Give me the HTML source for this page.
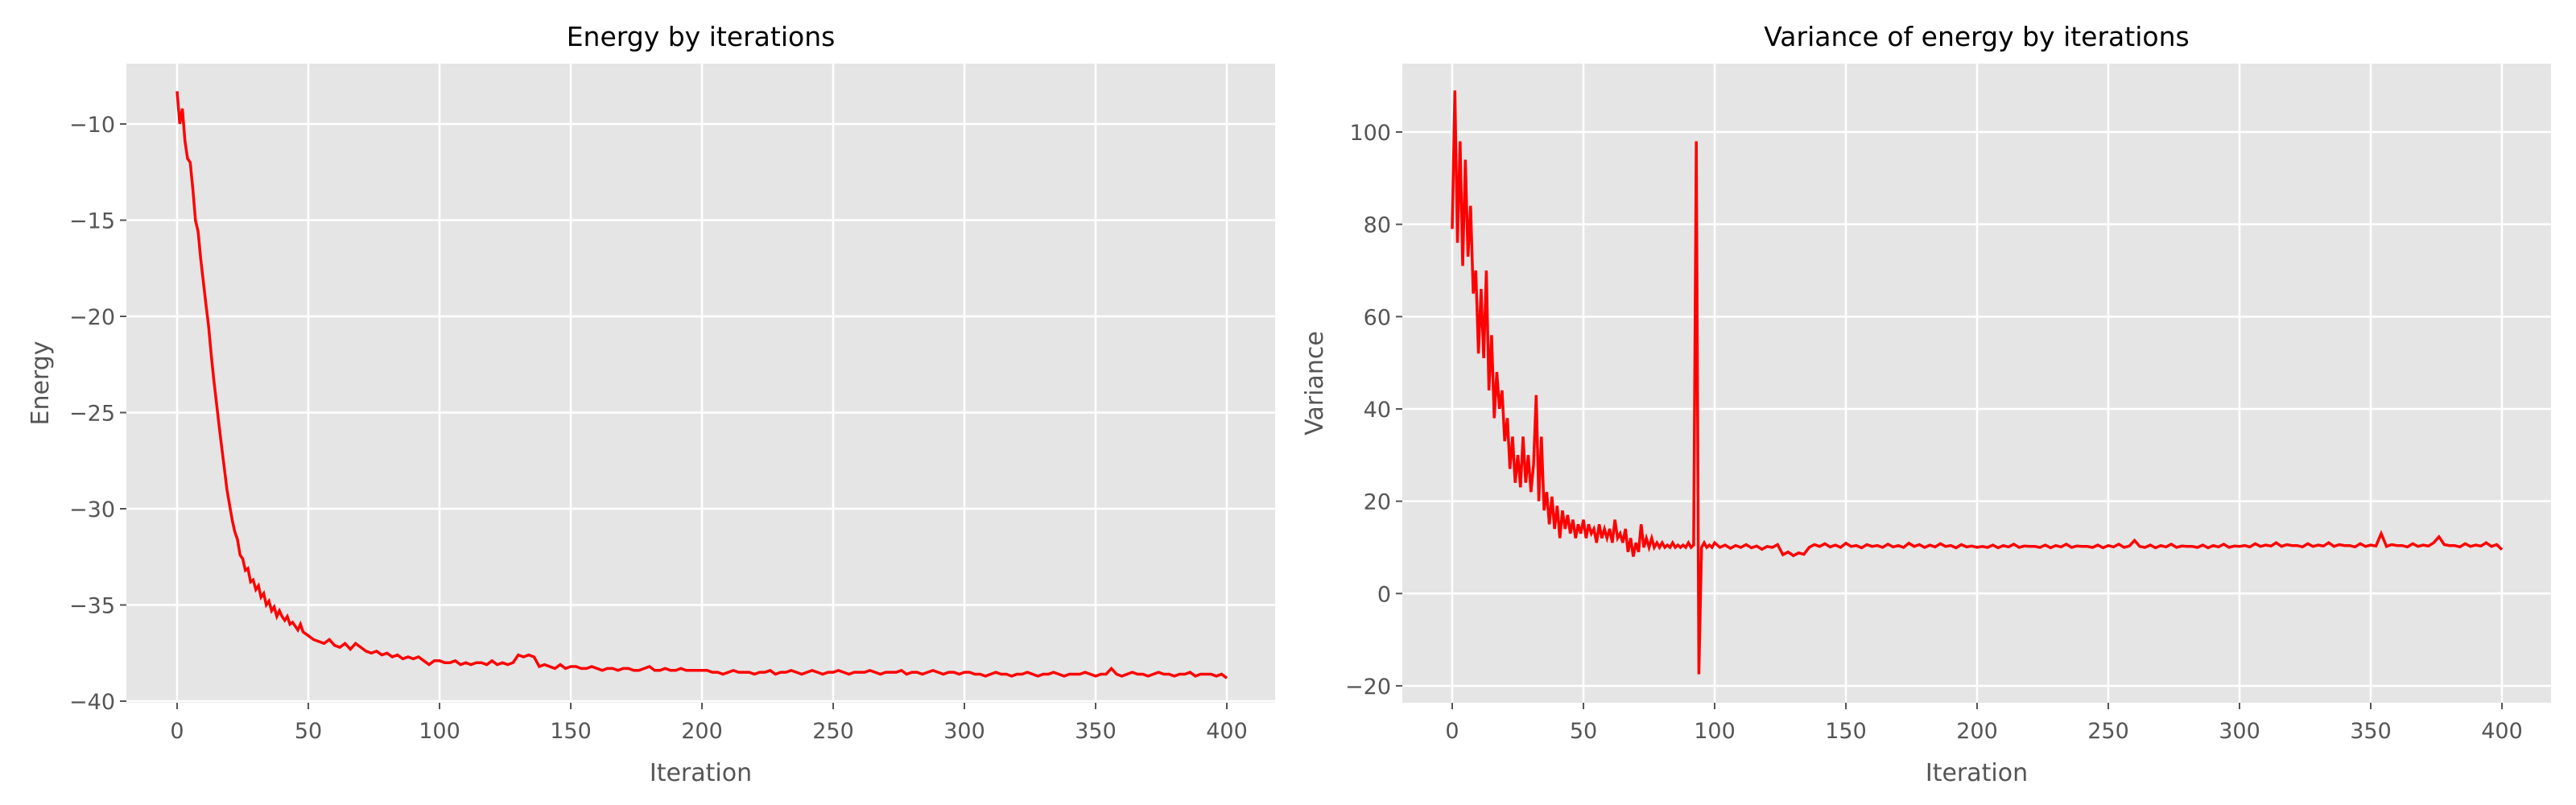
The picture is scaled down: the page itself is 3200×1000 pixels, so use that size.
<!DOCTYPE html>
<html><head><meta charset="utf-8"><style>
html,body{margin:0;padding:0;background:#fff;width:3200px;height:1000px;overflow:hidden}
svg{display:block;font-family:"DejaVu Sans","Liberation Sans",sans-serif}
</style></head><body>
<svg id="fig" width="3200" height="1000" xmlns="http://www.w3.org/2000/svg"></svg>
<script>
// ---- Energy chart data ----
const energyX1 = [0,1,2,3,4,5,6,7,8,9,10,11,12,13,14,15,16,17,18,19,20,21,22,23,24,25,26,27,28,29,30,31,32,33,34,35,36,37,38,39,40,41,42,43,44,45,46,47,48,49,50];
const energyY1 = [-8.3,-10.0,-9.2,-10.9,-11.8,-12.0,-13.4,-15.0,-15.6,-17.0,-18.2,-19.4,-20.5,-22.0,-23.3,-24.5,-25.7,-26.8,-27.9,-29.0,-29.8,-30.6,-31.2,-31.6,-32.4,-32.6,-33.2,-33.1,-33.8,-33.7,-34.2,-34.0,-34.6,-34.4,-35.0,-34.8,-35.3,-35.1,-35.6,-35.3,-35.6,-35.8,-35.6,-36.0,-35.9,-36.1,-36.3,-36.0,-36.4,-36.5,-36.6];
const energyY2 = [
-36.8,-36.9,-37.0,-36.8,-37.1,-37.2,-37.0,-37.3,-37.0,-37.2,
-37.4,-37.5,-37.4,-37.6,-37.5,-37.7,-37.6,-37.8,-37.7,-37.8,-37.7,-37.9,-38.1,-37.9,-37.9,
-38.0,-38.0,-37.9,-38.1,-38.0,-38.1,-38.0,-38.0,-38.1,-37.9,-38.1,-38.0,-38.1,-38.0,
-37.6,-37.7,-37.6,-37.7,-38.2,
-38.1,-38.2,-38.3,-38.1,-38.3,-38.2,-38.2,-38.3,-38.3,-38.2,-38.3,-38.4,-38.3,-38.3,-38.4,-38.3,-38.3,-38.4,-38.4,-38.3,-38.2,-38.4,-38.4,-38.3,-38.4,-38.4,-38.3,-38.4,-38.4,-38.4,-38.4,
-38.4,-38.5,-38.5,-38.6,-38.5,-38.4,-38.5,-38.5,-38.5,-38.6,
-38.5,-38.5,-38.4,-38.6,-38.5,-38.5,-38.4,-38.5,-38.6,-38.5,
-38.4,-38.5,-38.6,-38.5,-38.5,-38.4,-38.5,-38.6,-38.5,-38.5,
-38.5,-38.4,-38.5,-38.6,-38.5,-38.5,-38.5,-38.4,-38.6,-38.5,
-38.5,-38.6,-38.5,-38.4,-38.5,-38.6,-38.5,-38.5,-38.6,-38.5,
-38.5,-38.6,-38.6,-38.7,-38.6,-38.5,-38.6,-38.6,-38.7,-38.6,
-38.6,-38.5,-38.6,-38.7,-38.6,-38.6,-38.5,-38.6,-38.7,-38.6,
-38.6,-38.6,-38.5,-38.6,-38.7,-38.6,-38.6,-38.3,-38.6,-38.7,
-38.6,-38.5,-38.6,-38.6,-38.7,-38.6,-38.5,-38.6,-38.6,-38.7,
-38.6,-38.6,-38.5,-38.7,-38.6,-38.6,-38.6,-38.7,-38.6,-38.8];
// ---- Variance chart data ----
const varY1 = [79,109,76,98,71,94,73,84,65,70,52,66,51,70,44,56,38,48,40,44,33,38,27,34,24,30,23,34,24,30,22,28,43,20,34,18,22,15,21,14,19,12,18,14,17,13,16,12,15,13,16,12,15,13,14,11,15,12,14,12,14,11,16,12,13,11,14,9,12,8,11,9,15,10,12,10,12,10,11,10,11,10,10.5,10,11,10,10.5,10,10.5,10,11,10,10.5,98,-17.5,10,11,10,10.5,10,11];
const varY2 = [
10,10.5,9.8,10.4,10,10.6,9.9,10.3,9.6,10.2,10,10.6,
8.4,9,8.2,8.8,8.5,
10,10.6,10.2,10.8,10.1,10.5,10,10.9,10.2,10.4,9.9,10.6,10.2,10.4,10,10.7,10.1,10.4,10,10.9,10.2,10.6,10,10.5,10.1,10.8,10.2,10.4,9.9,10.6,10.1,10.3,10,
10.2,10,10.5,9.9,10.4,10.1,10.7,10,10.3,10.2,
10.2,10,10.5,9.9,10.4,10.1,10.7,10,10.3,10.2,
10.2,10,10.5,9.9,10.4,10.1,10.7,10,10.3,11.5,
10.2,10,10.5,9.9,10.4,10.1,10.7,10,10.3,10.2,
10.2,10,10.5,9.9,10.4,10.1,10.7,10,10.3,10.2,
10.4,10.1,10.8,10.2,10.5,10.3,11,10.2,10.6,10.4,
10.4,10.1,10.8,10.2,10.5,10.3,11,10.2,10.6,10.4,
10.4,10.1,10.8,10.2,10.5,10.3,13,10.2,10.6,10.4,
10.4,10.1,10.8,10.2,10.5,10.3,11,12.3,10.6,10.4,
10.4,10.1,10.8,10.2,10.5,10.3,11,10.2,10.6,9.5];
const xTicks = [0,50,100,150,200,250,300,350,400];
const energyTicks = [-40,-35,-30,-25,-20,-15,-10];
const varTicks = [-20,0,20,40,60,80,100];

const NS = "http://www.w3.org/2000/svg";
const svg = document.getElementById('fig');
function mk(tag, attrs, parent){const e=document.createElementNS(NS,tag);for(const k in attrs)e.setAttribute(k,attrs[k]);(parent||svg).appendChild(e);return e;}

function drawChart(o){
  const g = mk('g',{});
  
  
  const sx = v => o.x0px + (v - 0) * o.xppu;
  const sy = v => o.yRefPx - (v - o.yRef) * o.yppu;
  const bg = mk('rect',{x:o.left,y:o.top,width:o.right-o.left,height:o.bottom-o.top,fill:'#E5E5E5'},g);
  
  
  xTicks.forEach(t=>{
    const x=sx(t);
    const gl=mk('line',{x1:x,x2:x,y1:o.top,y2:o.bottom,stroke:'#fff','stroke-width':2.5},g);
    
    
    mk('line',{x1:x,x2:x,y1:o.bottom,y2:o.bottom+8,stroke:'#555','stroke-width':2},g);
    const tx=mk('text',{x:x,y:o.bottom+44,'text-anchor':'middle','font-size':27,fill:'#555'},g);
    tx.textContent=t;
    
    
  });
  o.yTicks.forEach(t=>{
    const y=sy(t);
    const gl=mk('line',{x1:o.left,x2:o.right,y1:y,y2:y,stroke:'#fff','stroke-width':2.5},g);
    
    
    mk('line',{x1:o.left-8,x2:o.left,y1:y,y2:y,stroke:'#555','stroke-width':2},g);
    const tx=mk('text',{x:o.left-14,y:y+10,'text-anchor':'end','font-size':27,fill:'#555'},g);
    tx.textContent=String(t).replace('-','\u2212');
    
    
  });
  let pts=[];
  o.xs.forEach((xv,i)=>{pts.push(sx(xv).toFixed(1)+','+sy(o.ys[i]).toFixed(1));});
  const line=mk('polyline',{points:pts.join(' '),fill:'none',stroke:'#FF0000','stroke-width':3.5,'stroke-linejoin':'miter'},g);
  
  
  const cx=(o.left+o.right)/2;
  const title=mk('text',{x:cx,y:57,'text-anchor':'middle','font-size':33,fill:'#000'},g);
  title.textContent=o.title;
  
  
  const xl=mk('text',{x:cx,y:970,'text-anchor':'middle','font-size':30,fill:'#555'},g);
  xl.textContent='Iteration';
  
  
  const ym=(o.top+o.bottom)/2;
  const yl=mk('text',{x:o.ylabelX,y:ym,'text-anchor':'middle','font-size':30,fill:'#555',transform:'rotate(-90 '+o.ylabelX+' '+ym+')'},g);
  yl.textContent=o.ylabel;
  
  
}

const exs=[...energyX1]; const eys=[...energyY1];
energyY2.forEach((v,i)=>{exs.push(52+2*i); eys.push(v);});
const vxs=[]; const vys=[];
varY1.forEach((v,i)=>{vxs.push(i); vys.push(v);});
varY2.forEach((v,i)=>{vxs.push(102+2*i); vys.push(v);});

drawChart({name:'energy-chart',left:157,right:1584,top:79,bottom:873,x0px:220,xppu:3.26,yRef:-10,yRefPx:154,yppu:23.9,yTicks:energyTicks,xs:exs,ys:eys,title:'Energy by iterations',ylabel:'Energy',ylabelX:60,lineName:'energy-line'});
drawChart({name:'variance-chart',left:1742,right:3169,top:79,bottom:873,x0px:1804,xppu:3.26,yRef:100,yRefPx:164,yppu:5.733,yTicks:varTicks,xs:vxs,ys:vys,title:'Variance of energy by iterations',ylabel:'Variance',ylabelX:1643,lineName:'variance-line'});
</script>
</body></html>
